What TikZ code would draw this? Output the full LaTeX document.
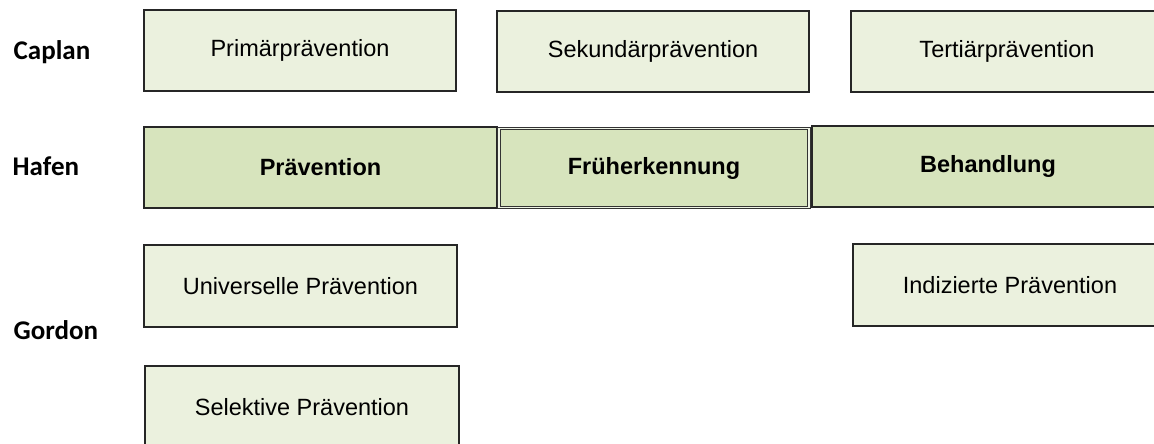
\documentclass[tikz,border=0pt]{standalone}
\usepackage{fontspec}
\setmainfont{Liberation Sans}
\newfontfamily\labelfont{Carlito}
\definecolor{boxhell}{HTML}{EBF1DE}
\definecolor{boxmittel}{HTML}{D7E4BD}

\begin{document}
\begin{tikzpicture}[x=1pt,y=-1pt,line width=1.4pt,
  box/.style={draw=black!85,fill=#1,minimum height=81pt,inner sep=0pt,font=\fontsize{23.5}{28}\selectfont},
  box/.default=boxhell,
  modell/.style={anchor=west,inner sep=0pt,font=\labelfont\bfseries\fontsize{27}{32}\selectfont}]
  \useasboundingbox (0,0) rectangle (1154,444);
  \clip (0,0) rectangle (1154,444);
  % Modelle links
  \node[modell] (caplan) at (13,52){Caplan};
  \node[modell] (hafen) at (12,166){Hafen};
  \node[modell] (gordon) at (13,330){Gordon};
  % Caplan
  \node[box,minimum width=312pt] (prim) at (300,50.5){Primärprävention};
  \node[box,minimum width=312pt] (sek) at (653,51.5){Sekundärprävention};
  \node[box,minimum width=312pt] (tert) at (1007,51.5){Tertiärprävention};
  % Hafen
  \node[box=boxmittel,minimum width=353pt,font=\fontsize{23.5}{28}\selectfont\bfseries] (prae) at (320.5,167.5){Prävention};
  \node[box=boxmittel,minimum width=310pt,minimum height=79pt,double=white!60!boxmittel,double distance=1.6pt,line width=1.1pt,draw=black!80,font=\fontsize{23.5}{28}\selectfont\bfseries] (frueh) at (654,168){Früherkennung};
  \node[box=boxmittel,minimum width=352pt,font=\fontsize{23.5}{28}\selectfont\bfseries] (beh) at (988,166.5){Behandlung};
  % Gordon
  \node[box,minimum width=313pt,minimum height=82pt] (univ) at (300.5,286){Universelle Prävention};
  \node[box,minimum width=314pt,minimum height=82pt] (sel) at (302,407){Selektive Prävention};
  \node[box,minimum width=314pt,minimum height=82pt] (ind) at (1010,285){Indizierte Prävention};
\end{tikzpicture}
\end{document}
